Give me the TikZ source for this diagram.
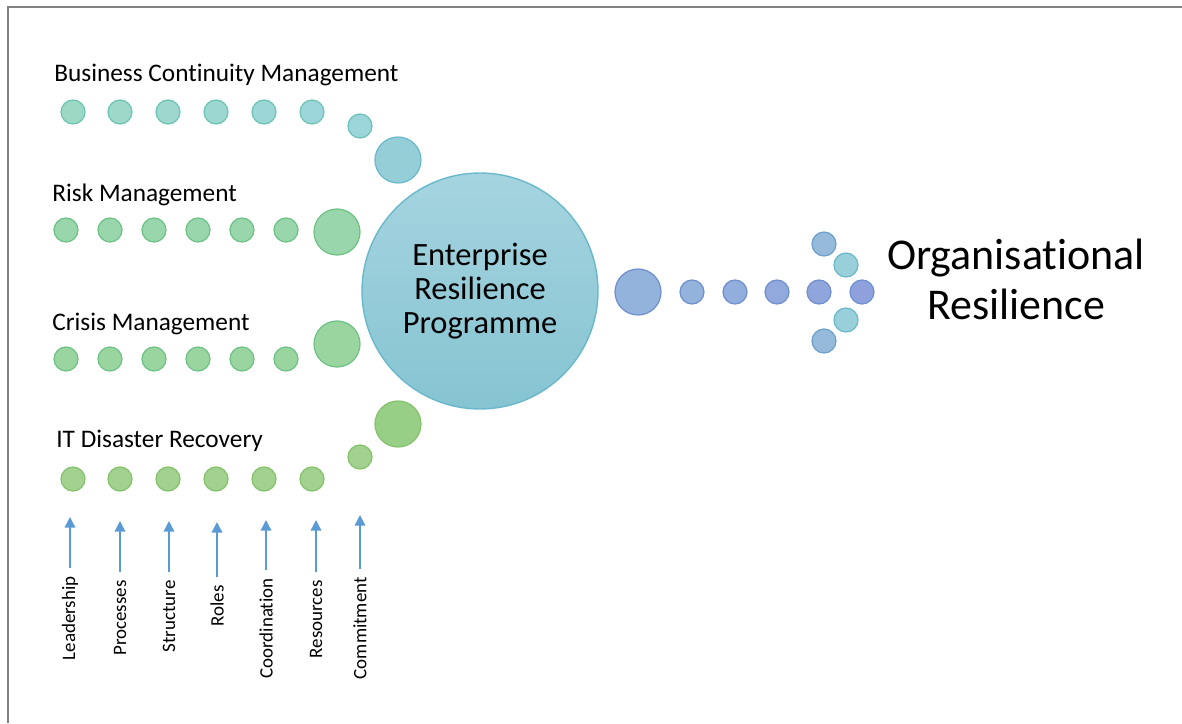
\documentclass[tikz,border=0pt]{standalone}
\usepackage{fontspec}
\setmainfont{Carlito}[Ligatures=NoCommon]
\usetikzlibrary{arrows.meta,positioning}
\newcommand{\dotunit}{0.48cm}
\newcommand{\bigdotunit}{0.92cm}
\definecolor{bcmleft}{HTML}{9DD8C4}
\definecolor{bcmright}{HTML}{9CD6DA}
\definecolor{bcmedge}{HTML}{6CC4B4}
\definecolor{riskfill}{HTML}{99D6AB}
\definecolor{crisisfill}{HTML}{9AD5A0}
\definecolor{greenedge}{HTML}{6CC285}
\definecolor{itfill}{HTML}{A2D190}
\definecolor{itbig}{HTML}{98CF86}
\definecolor{itedge}{HTML}{84C26A}
\definecolor{erptop}{HTML}{A5D4DF}
\definecolor{erpbottom}{HTML}{86C4D2}
\definecolor{erpedge}{HTML}{6AB8CC}
\definecolor{outleft}{HTML}{93B2DC}
\definecolor{outright}{HTML}{8FA1DC}
\definecolor{outedge}{HTML}{6F90CC}
\definecolor{headside}{HTML}{96BBDA}
\definecolor{headinner}{HTML}{98CFD9}
\definecolor{arrowblue}{HTML}{5B9BD5}
\tikzset{
    dotsty/.style={circle,draw,line width=0.7pt,minimum size=\dotunit,inner sep=0pt},
    bigsty/.style={dotsty,minimum size=\bigdotunit},
    headsty/.style={anchor=west,inner sep=0pt,font=\fontsize{14.4}{17}\selectfont},
    vlabelsty/.style={rotate=90,anchor=east,inner sep=0pt,font=\fontsize{10.8}{12}\selectfont},
    inarrowsty/.style={->,draw=arrowblue,line width=0.8pt,shorten <=0.16cm},
    framesty/.style={draw=gray,line width=1.1pt},
}

\begin{document}
\begin{tikzpicture}[x=0.02cm,y=-0.02cm,>={Triangle[length=6pt,width=6pt]}]
\useasboundingbox (0,0) rectangle (1182,723);
\draw[framesty] (1182,7) -- (8,7) -- (8,723);

% headings
\node[headsty] (bcm) at (54,75) {Business Continuity Management};
\node[headsty] (risk) at (52,195) {Risk Management};
\node[headsty] (crisis) at (52,324) {Crisis Management};
\node[headsty] (itdr) at (56,441) {IT Disaster Recovery};

% rows of dots
\foreach \i/\x in {1/73,2/120,3/168,4/216,5/264,6/312}
  {\pgfmathtruncatemacro{\pct}{(\i-1)*20}
   \node[dotsty,draw=bcmedge,fill=bcmright!\pct!bcmleft] (bcm\i) at (\x,112) {};}
\foreach \i/\x in {1/66,2/110,3/154,4/198,5/242,6/286}
  {\node[dotsty,draw=greenedge,fill=riskfill] (risk\i) at (\x,230) {};
   \node[dotsty,draw=greenedge,fill=crisisfill] (crisis\i) at (\x,359) {};}
\foreach \i/\x in {1/73,2/120,3/168,4/216,5/264,6/312}
  \node[dotsty,draw=itedge,fill=itfill] (itdr\i) at (\x,479) {};

% dots bending into the programme
\node[dotsty,draw=bcmedge!70!erpedge,fill=bcmright] (bcm7) at (360,126) {};
\node[bigsty,draw=erpedge,fill=headinner!90!erpbottom] (bcm8) at (398,160) {};
\node[bigsty,draw=greenedge,fill=riskfill] (risk7) at (337,232) {};
\node[bigsty,draw=greenedge,fill=crisisfill] (crisis7) at (337,344) {};
\node[dotsty,draw=itedge,fill=itfill] (itdr7) at (360,457) {};
\node[bigsty,draw=itedge,fill=itbig] (itdr8) at (398,424) {};

% the programme
\node[circle,draw=erpedge,line width=0.8pt,top color=erptop,bottom color=erpbottom,
  minimum size=4.72cm,inner sep=0pt,align=center,
  font=\fontsize{18.5}{20}\selectfont] (erp) at (480,291)
  {Enterprise\\[-0.5pt]Resilience\\[-0.5pt]Programme};

% arrow of dots
\node[bigsty,draw=outedge,fill=outleft] (out0) at (638,292) {};
\foreach \i/\x in {1/692,2/735,3/777,4/819,5/862}
  {\pgfmathtruncatemacro{\pct}{(\i-1)*25}
   \node[dotsty,draw=outedge,fill=outright!\pct!outleft] (out\i) at (\x,292) {};}
\node[dotsty,draw=outedge!60!erpedge,fill=headside] (headA) at (824,244) {};
\node[dotsty,draw=erpedge,fill=headinner] (headB) at (846,265) {};
\node[dotsty,draw=erpedge,fill=headinner] (headC) at (846,320) {};
\node[dotsty,draw=outedge!60!erpedge,fill=headside] (headD) at (824,341) {};

\node[align=center,inner sep=0pt,font=\fontsize{25}{28.5}\selectfont] (orgres) at (1016,279)
  {Organisational\\Resilience};

% contributing factors
\foreach \nm/\x/\y/\ty/\txt in {lead/70/576/517/Leadership,proc/120/580/521/Processes,
    struc/169/580/521/Structure,roles/217/585/522/Roles,coord/266/578/520/Coordination,
    resrc/316/580/520/Resources,commit/360/577/515/Commitment}
  {\node[vlabelsty] (\nm) at (\x,\y) {\txt};
   \coordinate (\nm tip) at (\x,\ty);
   \draw[inarrowsty] (\nm.east) -- (\nm tip);}
\end{tikzpicture}
\end{document}
